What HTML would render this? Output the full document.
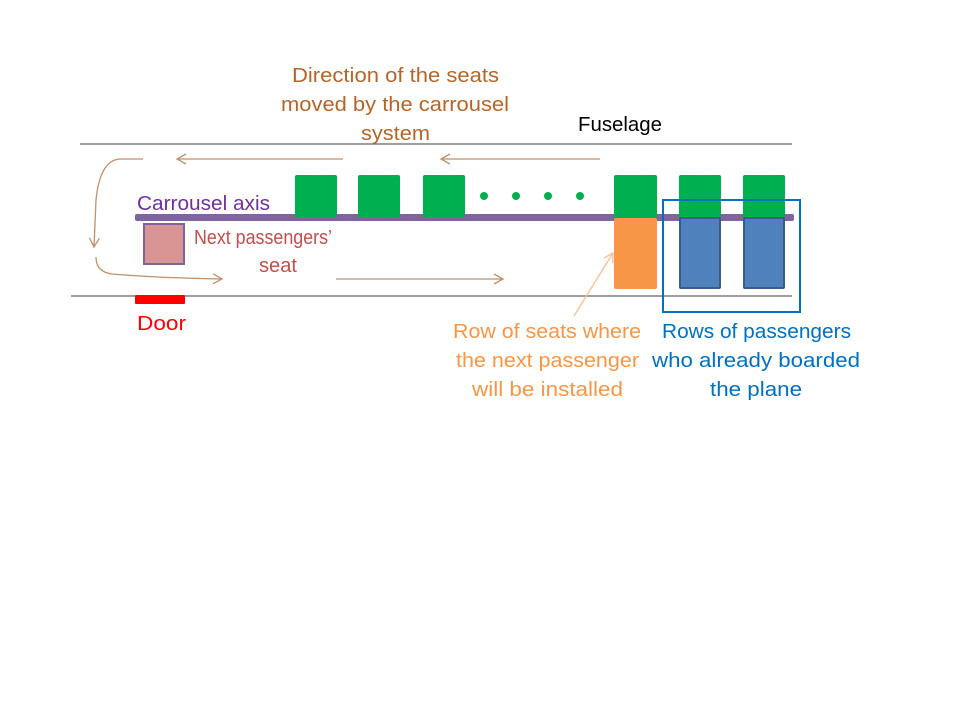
<!DOCTYPE html>
<html><head><meta charset="utf-8"><style>
body{margin:0;background:#fff;}
svg text{font-family:"Liberation Sans",sans-serif;font-size:20px;}
</style></head><body>
<svg width="960" height="720" viewBox="0 0 960 720">
<defs>
<marker id="ah" markerWidth="12" markerHeight="12" refX="10" refY="6" orient="auto" markerUnits="userSpaceOnUse">
<path d="M1,1 L10,6 L1,11" fill="none" stroke="#c0906a" stroke-width="1.3"/></marker>
<marker id="ah2" markerWidth="12" markerHeight="12" refX="10" refY="6" orient="auto" markerUnits="userSpaceOnUse">
<path d="M1,1 L10,6 L1,11" fill="none" stroke="#fac090" stroke-width="1.3"/></marker>
</defs>
<line x1="80" y1="144" x2="792" y2="144" stroke="#7f7f7f" stroke-width="1.5"/>
<line x1="71" y1="296" x2="792" y2="296" stroke="#7f7f7f" stroke-width="1.5"/>
<g fill="none" stroke="#c0906a" stroke-width="1.3">
<line x1="343" y1="159" x2="177" y2="159" marker-end="url(#ah)"/>
<line x1="600" y1="159" x2="441" y2="159" marker-end="url(#ah)"/>
<path d="M143,159 L120,159 Q100,160 96,200 L94,247" marker-end="url(#ah)"/>
<path d="M96,257 Q96,272 112,274 Q160,278 222,279" marker-end="url(#ah)"/>
<line x1="336" y1="279" x2="503" y2="279" marker-end="url(#ah)"/>
</g>
<rect x="135" y="214" width="659" height="7" rx="2" fill="#8064a2"/>
<g fill="#00b050">
<rect x="295" y="175" width="42" height="42" rx="2"/>
<rect x="358" y="175" width="42" height="42" rx="2"/>
<rect x="423" y="175" width="42" height="42" rx="2"/>
<circle cx="484" cy="196" r="4"/>
<circle cx="516" cy="196" r="4"/>
<circle cx="548" cy="196" r="4"/>
<circle cx="580" cy="196" r="4"/>
<rect x="614" y="175" width="43" height="43" rx="2"/>
<rect x="679" y="175" width="42" height="43" rx="2"/>
<rect x="743" y="175" width="42" height="43" rx="2"/>
</g>
<rect x="614" y="218" width="43" height="71" rx="2" fill="#f79646"/>
<rect x="680" y="218" width="40" height="70" rx="1" fill="#4f81bd" stroke="#385d8a" stroke-width="2"/>
<rect x="744" y="218" width="40" height="70" rx="1" fill="#4f81bd" stroke="#385d8a" stroke-width="2"/>
<rect x="663" y="200" width="137" height="112" fill="none" stroke="#0070c0" stroke-width="2"/>
<rect x="144" y="224" width="40" height="40" fill="#d99594" stroke="#8064a2" stroke-width="2"/>
<rect x="135" y="295" width="50" height="9" rx="1" fill="#ff0000"/>
<line x1="574" y1="316" x2="613" y2="253" stroke="#fac090" stroke-width="1.3" marker-end="url(#ah2)"/>
<g fill="#b5652a" lengthAdjust="spacingAndGlyphs">
<text x="292" y="82" textLength="207" lengthAdjust="spacingAndGlyphs">Direction of the seats</text>
<text x="281" y="111" textLength="228" lengthAdjust="spacingAndGlyphs">moved by the carrousel</text>
<text x="361" y="140" textLength="69" lengthAdjust="spacingAndGlyphs">system</text>
</g>
<text x="578" y="131" fill="#000" textLength="84" lengthAdjust="spacingAndGlyphs">Fuselage</text>
<text x="137" y="210" fill="#7030a0" textLength="133" lengthAdjust="spacingAndGlyphs">Carrousel axis</text>
<g fill="#c0504d">
<text x="194" y="244" textLength="138" lengthAdjust="spacingAndGlyphs">Next passengers’</text>
<text x="259" y="272" textLength="38" lengthAdjust="spacingAndGlyphs">seat</text>
</g>
<text x="137" y="330" fill="#ff0000" textLength="49" lengthAdjust="spacingAndGlyphs">Door</text>
<g fill="#f79646">
<text x="453" y="338" textLength="188" lengthAdjust="spacingAndGlyphs">Row of seats where</text>
<text x="456" y="367" textLength="183" lengthAdjust="spacingAndGlyphs">the next passenger</text>
<text x="472" y="396" textLength="151" lengthAdjust="spacingAndGlyphs">will be installed</text>
</g>
<g fill="#0070c0">
<text x="662" y="338" textLength="189" lengthAdjust="spacingAndGlyphs">Rows of passengers</text>
<text x="652" y="367" textLength="208" lengthAdjust="spacingAndGlyphs">who already boarded</text>
<text x="710" y="396" textLength="92" lengthAdjust="spacingAndGlyphs">the plane</text>
</g>
</svg>
</body></html>
